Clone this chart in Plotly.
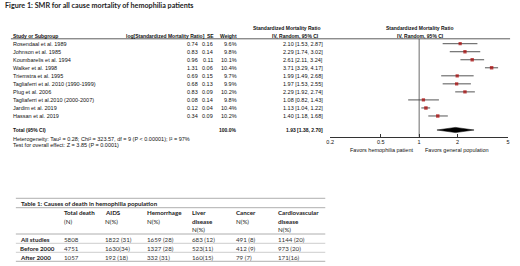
import math
import plotly.graph_objects as go

# ---------------- data ----------------
studies = ["Rosendaal et al. 1989", "Johnson et al. 1985", "Koumbarelis et al. 1994",
           "Walker et al. 1998", "Triemstra et al. 1995", "Tagliaferri et al. 2010 (1990-1999)",
           "Plug et al. 2006", "Tagliaferri et al.2010 (2000-2007)", "Jardim et al. 2019",
           "Hassan et al. 2019"]
log_smr = [0.74, 0.83, 0.96, 1.31, 0.69, 0.68, 0.83, 0.08, 0.12, 0.34]
se = [0.16, 0.14, 0.11, 0.06, 0.15, 0.13, 0.09, 0.14, 0.04, 0.09]
weight = [9.6, 9.8, 10.1, 10.4, 9.7, 9.9, 10.2, 9.8, 10.4, 10.2]
smr = [2.10, 2.29, 2.61, 3.71, 1.99, 1.97, 2.29, 1.08, 1.13, 1.40]
ci_lo = [1.53, 1.74, 2.11, 3.29, 1.49, 1.53, 1.92, 0.82, 1.04, 1.18]
ci_hi = [2.87, 3.02, 3.24, 4.17, 2.68, 2.55, 2.74, 1.43, 1.22, 1.68]
total_smr, total_lo, total_hi, total_weight = 1.93, 1.38, 2.70, 100.0
heterogeneity = "Heterogeneity: Tau² = 0.28; Chi² = 323.57, df = 9 (P < 0.00001); I² = 97%"
overall = "Test for overall effect: Z = 3.85 (P = 0.0001)"
tick_vals = [0.2, 0.5, 1, 2, 5]
tick_text = ["0.2", "0.5", "1", "2", "5"]

table_groups = ["All studies", "Before 2000", "After 2000"]
table_headers = ["Total death<br>(N)", "AIDS<br>N(%)", "Hemorrhage<br>N(%)",
                 "Liver<br>disease<br>N(%)", "Cancer<br>N(%)", "Cardiovascular<br>disease<br>N(%)"]
total_death = ["5808", "4751", "1057"]
aids = ["1822 (31)", "1630(34)", "192 (18)"]
hemorrhage = ["1659 (28)", "1327 (28)", "332 (31)"]
liver = ["683 (12)", "523(11)", "160(15)"]
cancer = ["491 (8)", "412 (9)", "79 (7)"]
cardio = ["1144 (20)", "973 (20)", "171(16)"]

# ---------------- layout helpers ----------------
W, H = 520, 266
ROW0, STEP = 43.7, 8.03          # pixel y of first study row, row spacing


def px(x):
    return x / W


def py(y):
    return 1 - y / H


def row_of(ypix):
    return (ypix - ROW0) / STEP


ARIAL = "Liberation Sans, Arial, sans-serif"
CAL = "Lato, Carlito, sans-serif"
FS = 5.5
HFS = 5.0

fig = go.Figure()
rows = list(range(len(studies)))

# CI lines
cx, cy = [], []
for i in rows:
    cx += [ci_lo[i], ci_hi[i], None]
    cy += [i, i, None]
fig.add_trace(go.Scatter(x=cx, y=cy, mode="lines", line=dict(color="#555555", width=1),
                         hoverinfo="skip"))
# point estimates
fig.add_trace(go.Scatter(x=smr, y=rows, mode="markers",
                         marker=dict(symbol="square", size=[3.2 + (w - 9.5) * 0.3 for w in weight],
                                     color="#a80000", line=dict(width=0))))
# null line
fig.add_trace(go.Scatter(x=[1, 1], y=[row_of(39), row_of(136.7)], mode="lines",
                         line=dict(color="#444444", width=0.8), hoverinfo="skip"))
# diamond
tr = row_of(130)
hh = 2.6 / STEP
fig.add_trace(go.Scatter(x=[total_lo, total_smr, total_hi, total_smr, total_lo],
                         y=[tr, tr - hh, tr, tr + hh, tr], mode="lines", fill="toself",
                         fillcolor="black", line=dict(color="black", width=0.5)))

ann = []


def text(x, y, s, anchor="left", size=FS, bold=False, family=ARIAL, color="#111111",
         yref="paper", valign="middle"):
    if bold:
        s = "<b>" + s + "</b>"
    ann.append(dict(x=px(x), y=(py(y) if yref == "paper" else y), xref="paper", yref=yref,
                    text=s, showarrow=False, xanchor=anchor, yanchor=valign, align=anchor,
                    font=dict(size=size, family=family, color=color), borderpad=0))


# title
text(0, 5, "Figure 1: SMR for all cause mortality of hemophilia patients", size=7.2,
     bold=True, family=CAL, color="#222222")

# headers
text(8, 35.6, "Study or Subgroup", bold=True, size=HFS)
text(204, 35.6, "log[Standardized Mortality Ratio]", anchor="right", bold=True, size=HFS)
text(213, 35.6, "SE", anchor="right", bold=True, size=HFS)
text(237, 35.6, "Weight", anchor="right", bold=True, size=HFS)
text(322, 27.5, "Standardized Mortality Ratio", anchor="right", bold=True, size=HFS)
text(320, 35.6, "IV, Random, 95% CI", anchor="right", bold=True, size=HFS)
text(421, 27.5, "Standardized Mortality Ratio", anchor="center", bold=True, size=HFS)
text(421, 35.6, "IV, Random, 95% CI", anchor="center", bold=True, size=HFS)

for i in rows:
    text(8, i, studies[i], yref="y")
    text(197, i, f"{log_smr[i]:.2f}", anchor="right", yref="y")
    text(212.5, i, f"{se[i]:.2f}", anchor="right", yref="y")
    text(237, i, f"{weight[i]:.1f}%", anchor="right", yref="y")
    text(324, i, f"{smr[i]:.2f} [{ci_lo[i]:.2f}, {ci_hi[i]:.2f}]", anchor="right", yref="y")

text(8, 130, "Total (95% CI)", bold=True, size=HFS)
text(237, 130, f"{total_weight:.1f}%", anchor="right", bold=True, size=HFS)
text(324, 130, f"{total_smr:.2f} [{total_lo:.2f}, {total_hi:.2f}]", anchor="right", bold=True,
     size=HFS)
text(8, 138.7, heterogeneity)
text(8, 144.5, overall)
text(381.5, 149.5, "Favors hemophilia patient", anchor="center")
text(458.5, 149.5, "Favors general population", anchor="center")

# table
TFS = 6.2
text(16, 203.2, "Table 1: Causes of death in hemophilia population", size=TFS, bold=True,
     family=CAL, color="#222222")
col_x = [60, 100.7, 143.3, 189.3, 233.3, 276]
for cx_, h in zip(col_x, table_headers):
    parts = h.split("<br>")
    for k, p in enumerate(parts):
        is_n = p in ("(N)", "N(%)")
        text(cx_, 212.7 + k * 8.6, p, size=TFS, bold=not is_n, family=CAL, color="#222222")
row_y = [239.3, 248, 257]
cols = [total_death, aids, hemorrhage, liver, cancer, cardio]
for r, g in enumerate(table_groups):
    text(15, row_y[r], g, size=TFS, bold=True, family=CAL, color="#222222")
    for cx_, col in zip(col_x, cols):
        text(cx_, row_y[r], col[r], size=TFS, family=CAL, color="#333333")

shapes = [dict(type="line", xref="paper", yref="paper", x0=px(7), x1=px(512), y0=py(38.8),
               y1=py(38.8), line=dict(color="#333333", width=0.8))]
for yl, c in [(198.3, "#9a9a9a"), (207.7, "#9a9a9a"), (234, "#9a9a9a"), (243.3, "#c0c0c0"),
              (252.3, "#c0c0c0"), (261.3, "#9a9a9a")]:
    shapes.append(dict(type="line", xref="paper", yref="paper", x0=px(12), x1=px(325),
                       y0=py(yl), y1=py(yl), line=dict(color=c, width=0.8)))

fig.update_layout(
    width=W, height=H, margin=dict(l=0, r=0, t=0, b=0),
    paper_bgcolor="white", plot_bgcolor="white", showlegend=False,
    annotations=ann, shapes=shapes,
    xaxis=dict(type="log", domain=[px(330), px(510)], range=[math.log10(0.2), math.log10(5)],
               tickvals=tick_vals, ticktext=tick_text, showline=True, linecolor="#333333",
               linewidth=0.8, ticks="inside", ticklen=3, tickcolor="#333333", tickwidth=0.8,
               showgrid=False, zeroline=False, anchor="free", position=py(136.7),
               tickfont=dict(size=FS, family=ARIAL, color="#111111"), fixedrange=True),
    yaxis=dict(domain=[0, 1], range=[row_of(H), row_of(0)], visible=False, fixedrange=True),
)

fig.write_html("out.html", config={"displayModeBar": False},
               post_script="document.body.style.margin='0';document.body.style.overflow='hidden';")
